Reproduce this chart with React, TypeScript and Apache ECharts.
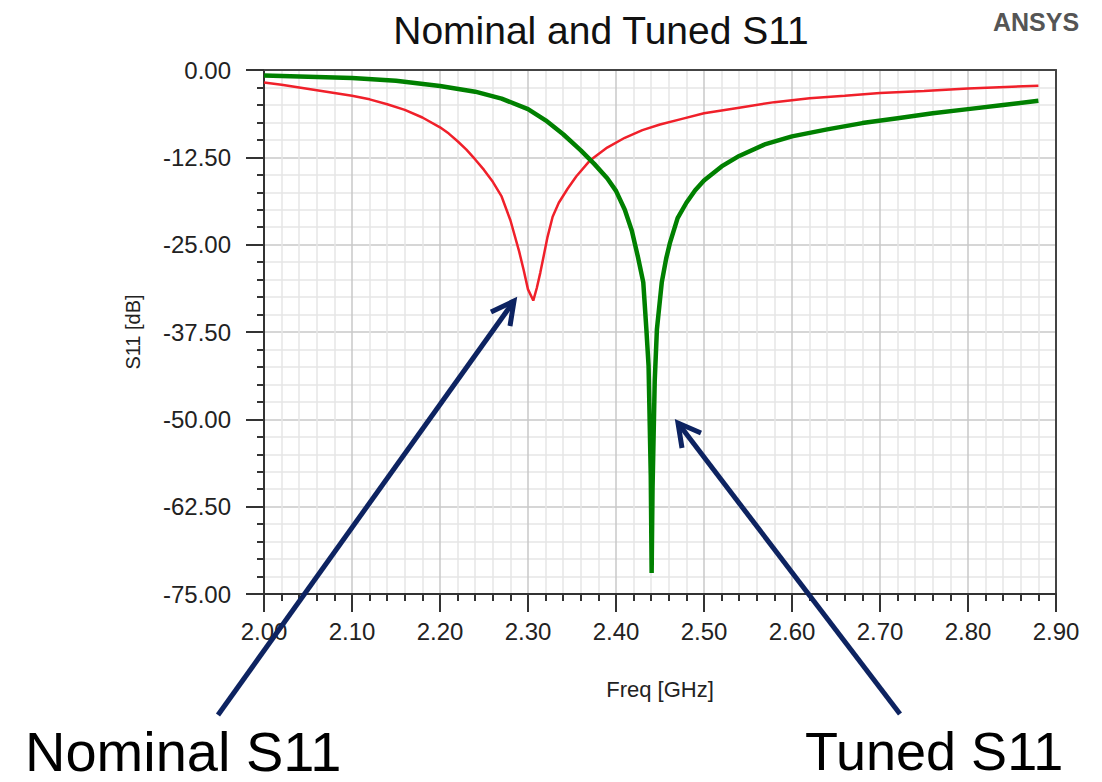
import React, { useEffect, useRef } from "react";
import * as echarts from "echarts";

// Nominal S11 (red): frequency [GHz] and S11 [dB]
const nominalFreq = [
  2.0, 2.02, 2.04, 2.06, 2.08, 2.1, 2.12, 2.14, 2.16, 2.18, 2.2, 2.21, 2.22,
  2.23, 2.24, 2.25, 2.26, 2.27, 2.28, 2.29, 2.295, 2.3, 2.306, 2.31, 2.314,
  2.318, 2.322, 2.328, 2.335, 2.345, 2.355, 2.37, 2.39, 2.41, 2.43, 2.45,
  2.475, 2.5, 2.54, 2.58, 2.62, 2.66, 2.7, 2.75, 2.8, 2.85, 2.88,
];
const nominalDb = [
  -1.8, -2.1, -2.5, -2.9, -3.3, -3.7, -4.2, -4.9, -5.7, -6.8, -8.2, -9.1, -10.2,
  -11.4, -12.8, -14.3, -16.0, -18.1, -21.5, -26.0, -28.6, -31.4, -33.0, -31.2, -29.0,
  -26.5, -24.0, -21.0, -19.0, -17.0, -15.2, -13.0, -11.1, -9.7, -8.6, -7.8,
  -7.0, -6.2, -5.4, -4.6, -4.05, -3.7, -3.3, -3.0, -2.65, -2.4, -2.25,
];

// Tuned S11 (green)
const tunedFreq = [
  2.0, 2.05, 2.1, 2.15, 2.2, 2.24, 2.27, 2.3, 2.32, 2.34, 2.36, 2.375, 2.39,
  2.4, 2.41, 2.418, 2.425, 2.431, 2.4345, 2.437, 2.4395, 2.4405, 2.4415, 2.444,
  2.4465, 2.452, 2.457, 2.4614, 2.47, 2.48, 2.49, 2.5, 2.52, 2.54, 2.57, 2.6,
  2.64, 2.68, 2.72, 2.76, 2.8, 2.84, 2.88,
];
const tunedDb = [
  -0.8, -0.95, -1.15, -1.55, -2.3, -3.1, -4.1, -5.6, -7.2, -9.2, -11.5, -13.4, -15.5,
  -17.3, -20.0, -23.0, -26.8, -30.4, -37.1, -42.3, -58.0, -72.0, -60.0, -44.5,
  -37.1, -30.4, -27.0, -24.7, -21.2, -19.0, -17.2, -15.8, -13.8, -12.3, -10.6, -9.5,
  -8.5, -7.6, -6.9, -6.2, -5.6, -5.0, -4.4,
];

const xMin = 2.0;
const xMax = 2.9;
const xStep = 0.1;
const yMin = -75;
const yMax = 0;
const yStep = 12.5;

const titleText = "Nominal and Tuned S11";
const xName = "Freq [GHz]";
const yName = "S11 [dB]";
const nominalLabel = "Nominal S11";
const tunedLabel = "Tuned S11";
const brand = "ANSYS";

const FONT = "'Liberation Sans', Arial, sans-serif";
const NAVY = "#0d2361";

export default function App() {
  const ref = useRef<HTMLDivElement>(null);

  useEffect(() => {
    if (!ref.current) return;
    const chart = echarts.init(ref.current, undefined, { renderer: "svg" });

    const nominal = nominalFreq.map((f, i) => [f, nominalDb[i]]);
    const tuned = tunedFreq.map((f, i) => [f, tunedDb[i]]);

    const arrow = (tail: number[], tip: number[], b1: number[], b2: number[]) => [
      {
        type: "line",
        shape: { x1: tail[0], y1: tail[1], x2: tip[0], y2: tip[1] },
        style: { stroke: NAVY, lineWidth: 5 },
        z: 100,
      },
      {
        type: "polyline",
        shape: { points: [b1, tip, b2] },
        style: { stroke: NAVY, lineWidth: 5, fill: null, lineJoin: "miter" },
        z: 100,
      },
    ];

    chart.setOption({
      animation: false,
      backgroundColor: "#ffffff",
      textStyle: { fontFamily: FONT },
      title: {
        text: titleText,
        left: 596,
        top: 6,
        textAlign: "center",
        textStyle: { fontSize: 39, fontWeight: "normal", color: "#111", fontFamily: FONT },
      },
      grid: { left: 264, right: 46, top: 70, bottom: 188, containLabel: false },
      xAxis: [
        {
          type: "value",
          min: xMin,
          max: xMax,
          interval: xStep,
          name: xName,
          nameLocation: "middle",
          nameGap: 84,
          nameTextStyle: { fontSize: 22, color: "#222", fontFamily: FONT },
          axisLine: { show: true, onZero: false, lineStyle: { color: "#333", width: 2 } },
          axisTick: { show: true, length: 18, lineStyle: { color: "#333", width: 2 } },
          minorTick: { show: true, splitNumber: 5, length: 7, lineStyle: { color: "#333", width: 2 } },
          axisLabel: {
            margin: 25,
            fontSize: 24,
            color: "#222",
            fontFamily: FONT,
            formatter: (v: number) => v.toFixed(2),
          },
          splitLine: { show: true, lineStyle: { color: "#c8c8c8", width: 1.5 } },
          minorSplitLine: { show: true, lineStyle: { color: "#e6e6e6", width: 1.5 } },
        },
        {
          type: "value",
          position: "top",
          min: xMin,
          max: xMax,
          axisLine: { show: true, onZero: false, lineStyle: { color: "#444", width: 2 } },
          axisTick: { show: false },
          axisLabel: { show: false },
          splitLine: { show: false },
        },
      ],
      yAxis: [
        {
          type: "value",
          min: yMin,
          max: yMax,
          interval: yStep,
          name: yName,
          nameLocation: "middle",
          nameGap: 121,
          nameTextStyle: { fontSize: 20, color: "#222", fontFamily: FONT },
          axisLine: { show: true, onZero: false, lineStyle: { color: "#333", width: 2 } },
          axisTick: { show: true, length: 18, lineStyle: { color: "#333", width: 2 } },
          minorTick: { show: true, splitNumber: 5, length: 7, lineStyle: { color: "#333", width: 2 } },
          axisLabel: {
            margin: 33,
            fontSize: 24,
            color: "#222",
            fontFamily: FONT,
            formatter: (v: number) => v.toFixed(2),
          },
          splitLine: { show: true, lineStyle: { color: "#c8c8c8", width: 1.5 } },
          minorSplitLine: { show: true, lineStyle: { color: "#e6e6e6", width: 1.5 } },
        },
        {
          type: "value",
          position: "right",
          min: yMin,
          max: yMax,
          axisLine: { show: true, onZero: false, lineStyle: { color: "#444", width: 2 } },
          axisTick: { show: false },
          axisLabel: { show: false },
          splitLine: { show: false },
        },
      ],
      series: [
        {
          name: nominalLabel,
          type: "line",
          data: nominal,
          showSymbol: false,
          symbol: "none",
          lineStyle: { color: "#f0202a", width: 2.5 },
          z: 3,
        },
        {
          name: tunedLabel,
          type: "line",
          data: tuned,
          showSymbol: false,
          symbol: "none",
          lineStyle: { color: "#008000", width: 4.5 },
          z: 4,
        },
      ],
      graphic: [
        {
          type: "text",
          x: 1036,
          y: 22,
          style: {
            text: brand,
            fontSize: 25,
            fontWeight: "bold",
            fontFamily: FONT,
            fill: "#555",
            align: "center",
            verticalAlign: "middle",
          },
        },
        ...arrow([218, 715], [514, 301], [491, 312], [510, 326]),
        ...arrow([900, 714], [678, 423], [682, 448], [701, 433]),
        {
          type: "text",
          x: 25,
          y: 751,
          style: {
            text: nominalLabel,
            fontSize: 56,
            fontFamily: FONT,
            fill: "#000",
            align: "left",
            verticalAlign: "middle",
          },
          z: 100,
        },
        {
          type: "text",
          x: 805,
          y: 751,
          style: {
            text: tunedLabel,
            fontSize: 54,
            fontFamily: FONT,
            fill: "#000",
            align: "left",
            verticalAlign: "middle",
          },
          z: 100,
        },
      ],
    });

    return () => chart.dispose();
  }, []);

  return (
    <div
      ref={ref}
      style={{ position: "absolute", left: 0, top: 0, width: 1102, height: 782 }}
    />
  );
}
